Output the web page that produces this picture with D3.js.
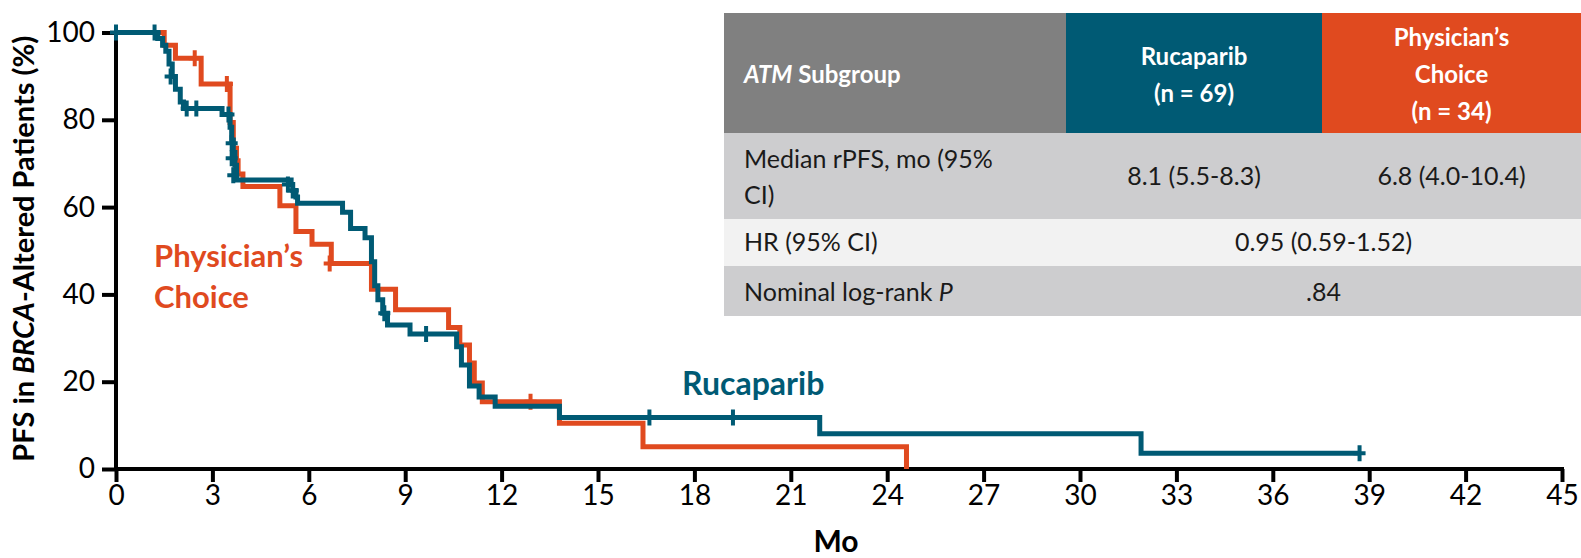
<!DOCTYPE html>
<html>
<head>
<meta charset="utf-8">
<script src="https://cdn.jsdelivr.net/npm/d3@7"></script>
<style>
  html, body { margin: 0; padding: 0; background: #ffffff; }
  svg { display: block; font-family: Lato, "Open Sans", sans-serif; }
</style>
</head>
<body>
<svg id="chart" width="1581" height="558"></svg>
<script>
// Kaplan–Meier steps: [month, % progression-free] after each event
const rucaparibSteps = [
  [0, 100], [1.3, 98.6], [1.45, 97.1], [1.55, 95.7], [1.65, 92.8], [1.75, 89.9],
  [1.85, 87.0], [2.0, 84.1], [2.1, 82.6], [3.3, 81.2], [3.55, 78.3], [3.6, 75.4],
  [3.65, 72.5], [3.7, 69.6], [3.75, 66.2], [5.45, 65.2], [5.5, 63.8], [5.6, 62.3],
  [5.65, 60.9], [7.05, 58.8], [7.3, 55.1], [7.75, 53.0], [7.95, 47.5], [8.05, 42.0],
  [8.15, 38.8], [8.3, 35.7], [8.45, 33.0], [9.15, 30.9], [10.6, 28.0], [10.75, 23.8],
  [11.0, 19.0], [11.3, 16.5], [11.8, 14.4], [13.8, 11.8], [21.9, 8.1], [31.9, 3.6],
  [38.7, 3.6]
];
const rucaparibCensored = [
  [0, 100], [1.2, 100], [1.7, 89.9], [2.2, 82.6], [2.5, 82.6], [3.5, 81.2],
  [3.6, 74.6], [3.6, 71.2], [3.65, 67.3], [5.35, 65.2], [5.5, 63.8], [8.35, 35.7],
  [9.65, 30.9], [16.6, 11.8], [19.2, 11.8], [38.7, 3.6]
];
const physicianSteps = [
  [0, 100], [1.5, 97.1], [1.85, 94.1], [2.65, 88.2], [3.55, 79.4], [3.65, 73.5],
  [3.75, 70.6], [3.8, 67.6], [3.95, 64.7], [5.1, 60.3], [5.6, 54.4], [6.1, 51.5],
  [6.7, 47.1], [7.95, 41.2], [8.7, 36.5], [10.35, 32.4], [10.7, 28.4], [11.0, 24.3],
  [11.15, 19.7], [11.4, 15.4], [13.8, 10.5], [16.4, 5.1], [24.6, 0]
];
const physicianCensored = [
  [2.45, 94.1], [3.45, 88.2], [6.65, 47.1], [12.9, 15.4]
];

const xTicks = d3.range(0, 46, 3);
const yTicks = [0, 20, 40, 60, 80, 100];

// Summary table
const tableHeader = ["ATM Subgroup", ["Rucaparib", "(n = 69)"], ["Physician\u2019s", "Choice", "(n = 34)"]];
const medianRow = [["Median rPFS, mo (95%", "CI)"], "8.1 (5.5-8.3)", "6.8 (4.0-10.4)"];
const hrRow = ["HR (95% CI)", "0.95 (0.59-1.52)"];
const logRankRow = ["Nominal log-rank ", ".84"];

const TEAL = "#005a74";
const ORANGE = "#e04a1f";

const svg = d3.select("#chart");

const x = d3.scaleLinear().domain([0, 45]).range([116, 1562]);
const y = d3.scaleLinear().domain([0, 100]).range([469, 32.5]);

// Axes
const xAxis = svg.append("g")
  .attr("transform", `translate(0,${y(0)})`)
  .call(d3.axisBottom(x).tickValues(xTicks).tickSize(13).tickSizeOuter(0).tickPadding(3));
const yAxis = svg.append("g")
  .attr("transform", `translate(${x(0)},0)`)
  .call(d3.axisLeft(y).tickValues(yTicks).tickSize(14).tickSizeOuter(0).tickPadding(7));

[xAxis, yAxis].forEach(g => {
  g.select(".domain").attr("stroke", "#000").attr("stroke-width", 4);
  g.selectAll(".tick line").attr("stroke", "#000").attr("stroke-width", 4);
  g.selectAll(".tick text").attr("fill", "#000").style("font-size", "28px")
    .style("font-family", "Lato, sans-serif");
});
xAxis.select(".domain").attr("d", `M${x(0) - 2},0H${x(45) + 2}`);
yAxis.select(".domain").attr("d", `M0,${y(100)}V${y(0) + 2}`);

// Axis titles
svg.append("text")
  .attr("x", x(22.5) - 3).attr("y", 552)
  .attr("text-anchor", "middle")
  .style("font-size", "30px").style("font-weight", 700)
  .text("Mo");

const yTitle = svg.append("text")
  .attr("transform", `translate(34,${(y(0) + y(100)) / 2 - 2}) rotate(-90)`)
  .attr("text-anchor", "middle")
  .style("font-size", "29px").style("font-weight", 700);
yTitle.append("tspan").text("PFS in ");
yTitle.append("tspan").style("font-style", "italic").text("BRCA");
yTitle.append("tspan").text("-Altered Patients (%)");

// Survival curves
const line = d3.line().x(d => x(d[0])).y(d => y(d[1])).curve(d3.curveStepAfter);

function drawArm(steps, censored, color) {
  svg.append("path")
    .datum(steps)
    .attr("fill", "none")
    .attr("stroke", color)
    .attr("stroke-width", 5)
    .attr("stroke-linejoin", "miter")
    .attr("d", line);
  svg.append("g").selectAll("path")
    .data(censored)
    .join("path")
    .attr("d", d => `M${x(d[0]) - 6},${y(d[1])}H${x(d[0]) + 6}M${x(d[0])},${y(d[1]) - 8}V${y(d[1]) + 8}`)
    .attr("stroke", color)
    .attr("stroke-width", 4)
    .attr("fill", "none");
}
drawArm(physicianSteps, physicianCensored, ORANGE);
drawArm(rucaparibSteps, rucaparibCensored, TEAL);

// Arm labels
const pcLabel = svg.append("text")
  .attr("fill", ORANGE)
  .style("font-size", "31px").style("font-weight", 700);
pcLabel.append("tspan").attr("x", 154).attr("y", 267).text("Physician\u2019s");
pcLabel.append("tspan").attr("x", 154).attr("y", 308).text("Choice");

svg.append("text")
  .attr("x", 682).attr("y", 395)
  .attr("fill", TEAL)
  .style("font-size", "32px").style("font-weight", 700)
  .text("Rucaparib");

// Table
const cols = [724, 1066, 1322, 1581];
const rows = [13, 133, 219, 266, 316];
const tbl = svg.append("g");

const fills = [
  ["#808080", TEAL, ORANGE],
  ["#cdcdcf", "#cdcdcf", "#cdcdcf"],
  ["#f2f2f2", "#f2f2f2", "#f2f2f2"],
  ["#cdcdcf", "#cdcdcf", "#cdcdcf"]
];
fills.forEach((r, ri) => r.forEach((f, ci) => {
  tbl.append("rect")
    .attr("x", cols[ci]).attr("y", rows[ri])
    .attr("width", cols[ci + 1] - cols[ci]).attr("height", rows[ri + 1] - rows[ri])
    .attr("fill", f);
}));

const TX = 744;
const headText = tbl.append("text").attr("x", TX).attr("y", 83)
  .attr("fill", "#fff").style("font-size", "24px").style("font-weight", 700);
headText.append("tspan").style("font-style", "italic").text("ATM");
headText.append("tspan").text(tableHeader[0].replace("ATM", ""));

function centered(lines, cx, y0, lh, opts) {
  const t = tbl.append("text").attr("text-anchor", "middle")
    .attr("fill", opts.fill).style("font-size", opts.size).style("font-weight", opts.weight);
  lines.forEach((s, i) => t.append("tspan").attr("x", cx).attr("y", y0 + i * lh).text(s));
}
const headStyle = {fill: "#fff", size: "24px", weight: 700};
centered(tableHeader[1], (cols[1] + cols[2]) / 2, 65, 37, headStyle);
centered(tableHeader[2], (cols[2] + cols[3]) / 2, 46, 37, headStyle);

const bodyStyle = {fill: "#1a1a1a", size: "25px", weight: 400};
const medLabel = tbl.append("text").attr("fill", bodyStyle.fill).style("font-size", bodyStyle.size);
medianRow[0].forEach((s, i) => medLabel.append("tspan").attr("x", TX).attr("y", 168 + i * 36).text(s));
centered([medianRow[1]], (cols[1] + cols[2]) / 2, 185, 0, bodyStyle);
centered([medianRow[2]], (cols[2] + cols[3]) / 2, 185, 0, bodyStyle);

tbl.append("text").attr("x", TX).attr("y", 251).attr("fill", bodyStyle.fill)
  .style("font-size", bodyStyle.size).text(hrRow[0]);
centered([hrRow[1]], (cols[1] + cols[3]) / 2, 251, 0, bodyStyle);

const lr = tbl.append("text").attr("x", TX).attr("y", 301).attr("fill", bodyStyle.fill)
  .style("font-size", bodyStyle.size);
lr.append("tspan").text(logRankRow[0]);
lr.append("tspan").style("font-style", "italic").text("P");
centered([logRankRow[1]], (cols[1] + cols[3]) / 2, 301, 0, bodyStyle);
</script>
</body>
</html>
